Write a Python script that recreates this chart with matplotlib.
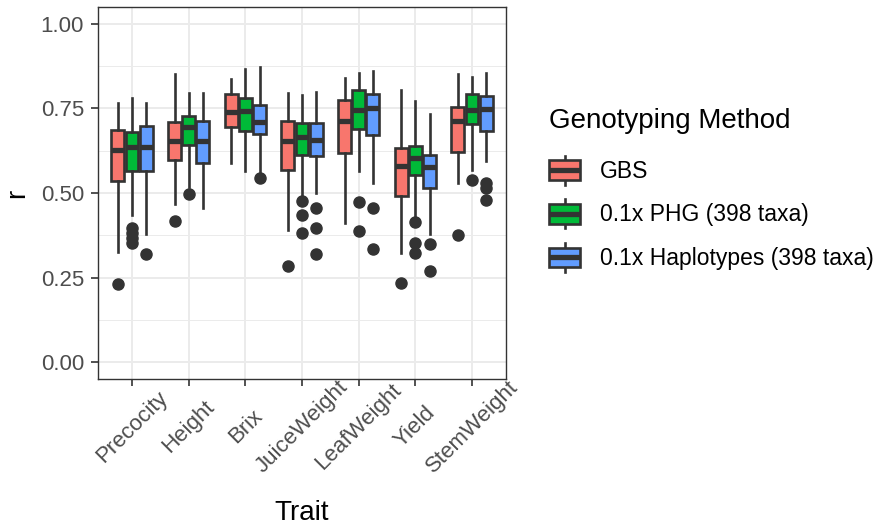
import matplotlib
matplotlib.use('Agg')
import matplotlib.pyplot as plt
import matplotlib.transforms as mtrans
from matplotlib.patches import Rectangle
from matplotlib.lines import Line2D
from matplotlib.legend_handler import HandlerBase
from matplotlib.ticker import MultipleLocator

plt.rcParams['font.family'] = ['Liberation Sans', 'DejaVu Sans']

traits = ["Precocity", "Height", "Brix", "JuiceWeight", "LeafWeight", "Yield", "StemWeight"]
methods = ["GBS", "0.1x PHG (398 taxa)", "0.1x Haplotypes (398 taxa)"]
colors = ["#F8766D", "#00BA38", "#619CFF"]

# per trait: [whisker low, Q1, median, Q3, whisker high]
gbs_box = [
    [0.325, 0.536, 0.627, 0.686, 0.765],
    [0.466, 0.598, 0.655, 0.711, 0.853],
    [0.590, 0.696, 0.740, 0.794, 0.838],
    [0.392, 0.569, 0.655, 0.714, 0.796],
    [0.412, 0.619, 0.713, 0.774, 0.841],
    [0.323, 0.492, 0.580, 0.632, 0.804],
    [0.531, 0.622, 0.714, 0.753, 0.853],
]
gbs_out = [[0.230], [0.417], [], [0.284], [], [0.233], [0.377]]

phg_box = [
    [0.436, 0.566, 0.635, 0.680, 0.782],
    [0.518, 0.642, 0.696, 0.727, 0.797],
    [0.566, 0.684, 0.743, 0.781, 0.866],
    [0.490, 0.613, 0.665, 0.706, 0.789],
    [0.566, 0.689, 0.745, 0.806, 0.855],
    [0.432, 0.554, 0.603, 0.639, 0.772],
    [0.569, 0.703, 0.745, 0.794, 0.843],
]
phg_out = [[0.397, 0.382, 0.368, 0.352], [0.497], [], [0.475, 0.434, 0.382],
           [0.472, 0.387], [0.414, 0.353, 0.324], [0.537]]

hap_box = [
    [0.380, 0.566, 0.635, 0.698, 0.767],
    [0.456, 0.588, 0.655, 0.714, 0.797],
    [0.560, 0.674, 0.711, 0.760, 0.873],
    [0.500, 0.608, 0.657, 0.706, 0.799],
    [0.531, 0.671, 0.750, 0.794, 0.861],
    [0.380, 0.516, 0.577, 0.613, 0.733],
    [0.596, 0.684, 0.747, 0.786, 0.856],
]
hap_out = [[0.319], [], [0.543], [0.456, 0.397, 0.319], [0.456, 0.333],
           [0.348, 0.268], [0.529, 0.515, 0.480]]

yticks = [0.00, 0.25, 0.50, 0.75, 1.00]
ytick_labels = ["0.00", "0.25", "0.50", "0.75", "1.00"]

DARK = "#333333"
LW = 1.9
MLW = 3.8
W, H = 880, 531
fig = plt.figure(figsize=(W / 100, H / 100), dpi=100)
ax = fig.add_axes([98 / W, 1 - 379 / H, (506 - 98) / W, (379 - 7) / H])

all_boxes = [gbs_box, phg_box, hap_box]
all_outs = [gbs_out, phg_out, hap_out]
for m, (boxes, outs, col) in enumerate(zip(all_boxes, all_outs, colors)):
    stats = []
    for b, o in zip(boxes, outs):
        stats.append(dict(whislo=b[0], q1=b[1], med=b[2], q3=b[3], whishi=b[4], fliers=o))
    pos = [i + 1 + (m - 1) * 0.25 for i in range(len(traits))]
    ax.bxp(stats, positions=pos, widths=0.225, patch_artist=True, showcaps=False,
           boxprops=dict(facecolor=col, edgecolor=DARK, linewidth=LW),
           medianprops=dict(color=DARK, linewidth=MLW, solid_capstyle='butt'),
           whiskerprops=dict(color=DARK, linewidth=LW),
           flierprops=dict(marker='o', markerfacecolor=DARK, markeredgecolor=DARK, markersize=8),
           zorder=3)

ax.set_xlim(0.4, 7.6)
ax.set_ylim(-0.05, 1.05)
ax.set_xticks(range(1, len(traits) + 1))
ax.set_xticklabels(traits, rotation=45, ha='center', va='center')
shift = mtrans.ScaledTranslation(3.5 / 100, 0, fig.dpi_scale_trans)
for t in ax.xaxis.get_major_ticks():
    t.label1.set_transform(t.label1.get_transform() + shift)
ax.set_yticks(yticks)
ax.set_yticklabels(ytick_labels)
ax.yaxis.set_minor_locator(MultipleLocator(0.125))
ax.set_axisbelow(True)
ax.grid(True, which='major', color='#EBEBEB', linewidth=1.4)
ax.grid(True, which='minor', axis='y', color='#EBEBEB', linewidth=0.7)
ax.tick_params(which='minor', length=0)
ax.tick_params(which='major', length=5, width=1.2, color=DARK, labelcolor='#4D4D4D', labelsize=16)
ax.tick_params(axis='x', pad=29.5)
ax.tick_params(axis='y', pad=5)
for s in ax.spines.values():
    s.set_color(DARK)
    s.set_linewidth(1.0)

ax.set_ylabel('r', fontsize=20, va='center')
ax.yaxis.set_label_coords(-0.199, 0.5)
ax.set_xlabel('Trait', fontsize=20, va='center')
ax.xaxis.set_label_coords(0.5, (379 - 513) / 372)


class BoxKey(HandlerBase):
    def create_artists(self, legend, orig_handle, xdescent, ydescent, width, height, fontsize, trans):
        fc = orig_handle.get_facecolor()
        x0, y0 = -xdescent, -ydescent
        cx = x0 + width / 2
        wl = Line2D([cx, cx], [y0, y0 + height], color=DARK, lw=LW, transform=trans)
        bx = Rectangle((x0, y0 + height * 0.16), width, height * 0.68, facecolor=fc,
                       edgecolor=DARK, lw=LW, transform=trans)
        md = Line2D([x0, x0 + width], [y0 + height / 2] * 2, color=DARK, lw=MLW,
                    solid_capstyle='butt', transform=trans)
        return [wl, bx, md]


handles = [Rectangle((0, 0), 1, 1, facecolor=c) for c in colors]
leg = ax.legend(handles, methods, handler_map={Rectangle: BoxKey()},
                title='Genotyping Method', title_fontsize=20, fontsize=16.5,
                frameon=False, loc='center left', bbox_to_anchor=(549 / W, 1 - 190 / H),
                bbox_transform=fig.transFigure, handlelength=1.36, handleheight=1.55,
                labelspacing=0.65, handletextpad=0.87, borderpad=0, borderaxespad=0,
                alignment='left')
leg._legend_box.sep = 15.5

fig.savefig('out.png', dpi=100)
